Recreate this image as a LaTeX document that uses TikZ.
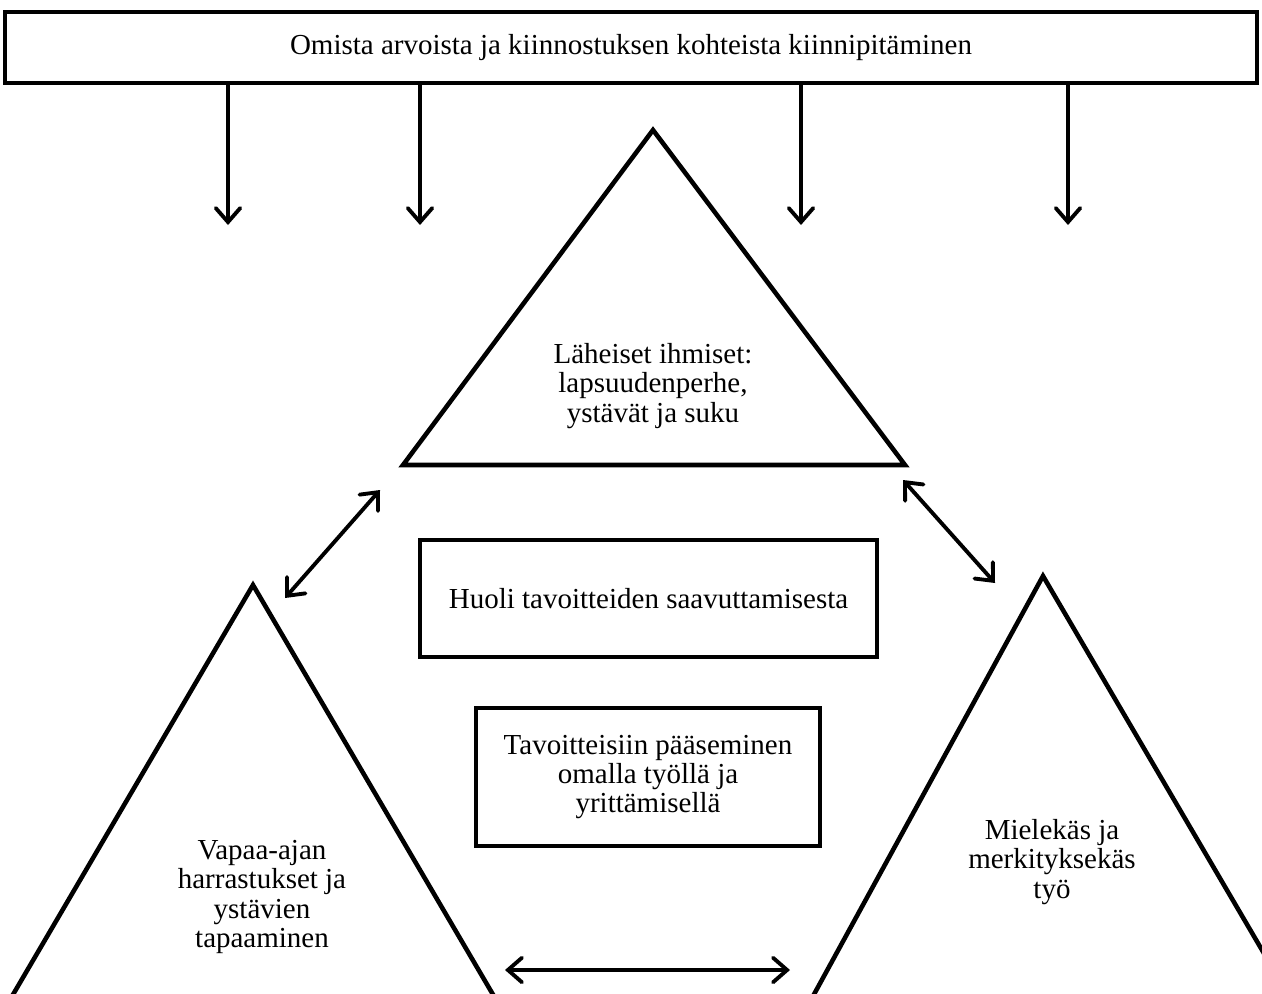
\documentclass[tikz,border=0pt]{standalone}
\usepackage{fontspec}
\setmainfont{Liberation Serif}
\usetikzlibrary{arrows.meta}
\tikzset{
  frame/.style={draw, line width=2.6pt, align=center, inner sep=0pt},
  tri/.style={draw, line width=2.6pt, line join=miter},
  lbl/.style={align=center, inner sep=0pt},
  arr/.style={line width=2.2pt, -{Straight Barb[length=8pt, width=14pt, line width=2.2pt, line cap=round]}},
  darr/.style={line width=2.2pt, {Straight Barb[length=8pt, width=14pt, line width=2.2pt, line cap=round]}-{Straight Barb[length=8pt, width=14pt, line width=2.2pt, line cap=round]}}
}
\begin{document}
\begin{tikzpicture}[x=0.02cm, y=-0.02cm, font=\fontsize{16.5}{16.6}\selectfont]
    \clip (0,0) rectangle (1262,994);
    \useasboundingbox (0,0) rectangle (1262,994);
    % top box
    \node[frame, minimum width=25.04cm, minimum height=1.42cm] (keep) at (631,47.5)
        {Omista arvoista ja kiinnostuksen kohteista kiinnipitäminen};
    \coordinate (d1) at (228,225);
    \coordinate (d2) at (420,225);
    \coordinate (d3) at (801,225);
    \coordinate (d4) at (1068,225);
    \foreach \d in {d1,d2,d3,d4}
        \draw[arr] (keep.south -| \d) -- (\d);
    % triangles
    \draw[tri] (653,130) coordinate (close-top) -- (905,465) coordinate (close-r) -- (403,465) coordinate (close-l) -- cycle;
    \draw[tri] (253,585) coordinate (free-top) -- (495,998) -- (11,998) -- cycle;
    \draw[tri] (1043,576) coordinate (work-top) -- (1262,950) -- (1290,998) -- (812,998) -- cycle;
    \node[lbl] (close) at (653,386) {Läheiset ihmiset:\\lapsuudenperhe,\\ystävät ja suku};
    \node[lbl] (free) at (262,897) {Vapaa-ajan\\harrastukset ja\\ystävien\\tapaaminen};
    \node[lbl] (work) at (1052,862) {Mielekäs ja\\merkityksekäs\\työ};
    % middle boxes
    \node[frame, minimum width=9.14cm, minimum height=2.34cm] (worry) at (648.5,598.5)
        {Huoli tavoitteiden saavuttamisesta};
    \node[frame, minimum width=6.88cm, minimum height=2.76cm] (reach) at (648,777)
        {Tavoitteisiin pääseminen\\omalla työllä ja\\yrittämisellä};
    % double arrows
    \coordinate (l1) at (380,490);
    \coordinate (l2) at (285,598);
    \coordinate (r1) at (903,480);
    \coordinate (r2) at (995,583);
    \coordinate (b1) at (505,970);
    \coordinate (b2) at (790,970);
    \draw[darr] (l1) -- (l2);
    \draw[darr] (r1) -- (r2);
    \draw[darr] (b1) -- (b2);
\end{tikzpicture}
\end{document}
